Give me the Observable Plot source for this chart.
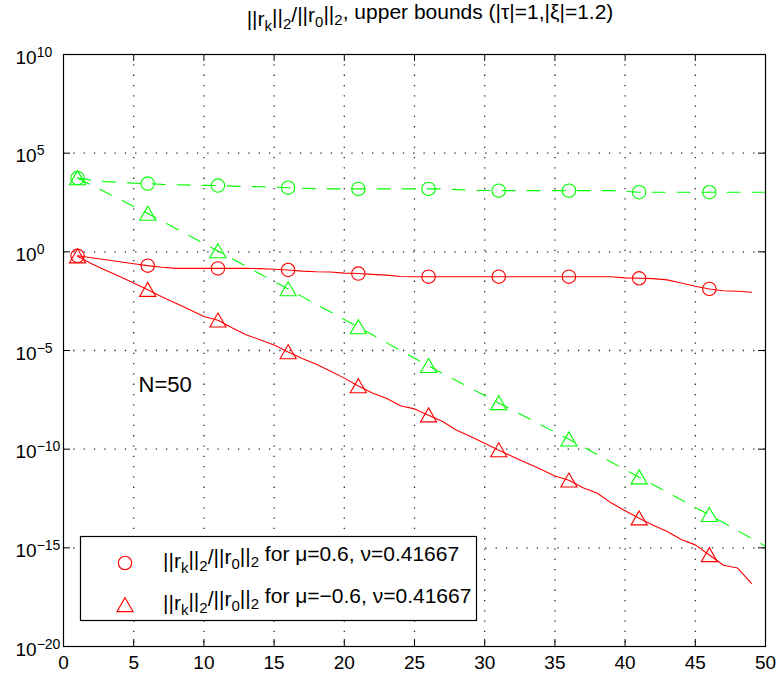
<!DOCTYPE html>
<html><head><meta charset="utf-8">
<script src="https://cdn.jsdelivr.net/npm/d3@7"></script>
<script src="https://cdn.jsdelivr.net/npm/@observablehq/plot@0.6"></script>
<style>body{margin:0;background:#fff}#chart{width:783px;height:679px}</style>
</head><body><div id="chart"></div>
<script>
// iteration index k
const iterations = [1,2,3,4,5,6,7,8,9,10,11,12,13,14,15,16,17,18,19,20,21,22,23,24,25,26,27,28,29,30,31,32,33,34,35,36,37,38,39,40,41,42,43,44,45,46,47,48,49,50];
// log10 of ||r_k||_2/||r_0||_2
const redCircleExp = [-0.20,-0.30,-0.40,-0.50,-0.60,-0.70,-0.78,-0.84,-0.84,-0.84,-0.84,-0.84,-0.84,-0.85,-0.88,-0.92,-0.98,-1.01,-1.02,-1.08,-1.10,-1.14,-1.18,-1.25,-1.26,-1.26,-1.26,-1.26,-1.26,-1.26,-1.26,-1.26,-1.26,-1.26,-1.26,-1.26,-1.26,-1.26,-1.26,-1.32,-1.34,-1.36,-1.42,-1.58,-1.74,-1.88,-1.97,-2.00,-2.05];
const redTriangleExp = [-0.22,-0.60,-0.93,-1.25,-1.58,-1.92,-2.28,-2.60,-2.94,-3.28,-3.47,-3.85,-4.20,-4.45,-4.72,-5.08,-5.40,-5.70,-6.04,-6.40,-6.80,-7.15,-7.42,-7.80,-7.96,-8.28,-8.60,-9.04,-9.36,-9.70,-10.05,-10.38,-10.70,-11.02,-11.36,-11.58,-11.95,-12.22,-12.72,-13.12,-13.50,-13.85,-14.17,-14.58,-14.85,-15.36,-15.88,-16.02,-16.80];
const greenCircleExp = [3.74,3.64,3.56,3.52,3.48,3.46,3.42,3.40,3.38,3.37,3.36,3.33,3.31,3.30,3.28,3.25,3.22,3.20,3.19,3.19,3.19,3.19,3.19,3.19,3.19,3.19,3.19,3.15,3.12,3.11,3.10,3.10,3.10,3.10,3.10,3.10,3.10,3.10,3.10,3.06,3.02,3.02,3.02,3.02,3.02,3.02,3.02,3.02,3.02,3.02];
const greenTriangleExp = [3.74,3.38,3.02,2.66,2.30,1.94,1.56,1.18,0.80,0.42,0.04,-0.35,-0.73,-1.12,-1.50,-1.89,-2.27,-2.66,-3.04,-3.43,-3.81,-4.20,-4.60,-5.00,-5.39,-5.78,-6.16,-6.53,-6.91,-7.28,-7.66,-8.03,-8.40,-8.77,-9.14,-9.50,-9.88,-10.27,-10.65,-11.04,-11.42,-11.80,-12.18,-12.56,-12.95,-13.33,-13.72,-14.12,-14.52,-14.92];
const markerIterations = [1,6,11,16,21,26,31,36,41,46];
const xTicks = [0,5,10,15,20,25,30,35,40,45,50];
const yTickExps = [10,5,0,-5,-10,-15,-20];
const legendParams = ["μ=0.6, ν=0.41667", "μ=−0.6, ν=0.41667"];
const titleTail = ", upper bounds (|τ|=1,|ξ|=1.2)";
const annotation = "N=50";

const RED = "#ff0000", GREEN = "#00ff00";
function series(exps) { return exps.map((e, i) => ({k: iterations[i], v: Math.pow(10, e)})); }
function markers(s) { return s.filter(d => markerIterations.includes(d.k)); }
const redC = series(redCircleExp), redT = series(redTriangleExp);
const grnC = series(greenCircleExp), grnT = series(greenTriangleExp);
const yTicks = yTickExps.map(e => Math.pow(10, e));

const W = 783, H = 679, mL = 63, mR = 18, mT = 54, mB = 33;
const plotW = W - mL - mR, plotH = H - mT - mB;
const FONT = "'Liberation Sans', Arial, Helvetica, sans-serif";
const dash = "13,12";

const chart = Plot.plot({
  width: W, height: H,
  marginLeft: mL, marginRight: mR, marginTop: mT, marginBottom: mB,
  style: {fontFamily: FONT, fontSize: "19px", background: "white", color: "black"},
  x: {domain: [0, 50], label: null},
  y: {type: "log", domain: [1e-20, 1e10], label: null},
  marks: [
    Plot.gridX(xTicks.slice(1, -1), {stroke: "black", strokeOpacity: 0.85, strokeWidth: 1.3, strokeDasharray: "1.3,9"}),
    Plot.gridY(yTicks.slice(1, -1), {stroke: "black", strokeOpacity: 0.85, strokeWidth: 1.3, strokeDasharray: "1.3,9"}),
    Plot.tickX(xTicks, {x: d => d, stroke: "black", insetTop: plotH - 7}),
    Plot.tickX(xTicks, {x: d => d, stroke: "black", insetBottom: plotH - 7}),
    Plot.tickY(yTicks, {y: d => d, stroke: "black", insetRight: plotW - 7}),
    Plot.tickY(yTicks, {y: d => d, stroke: "black", insetLeft: plotW - 7}),
    Plot.line(grnC, {x: "k", y: "v", stroke: GREEN, strokeWidth: 1.1, strokeDasharray: dash}),
    Plot.line(grnT, {x: "k", y: "v", stroke: GREEN, strokeWidth: 1.1, strokeDasharray: dash}),
    Plot.line(redC, {x: "k", y: "v", stroke: RED, strokeWidth: 1.1}),
    Plot.line(redT, {x: "k", y: "v", stroke: RED, strokeWidth: 1.1}),
    Plot.dot(markers(grnC), {x: "k", y: "v", stroke: GREEN, fill: "none", r: 6.7, symbol: "circle", strokeWidth: 1.1}),
    Plot.dot(markers(grnT), {x: "k", y: "v", stroke: GREEN, fill: "none", r: 6, symbol: "triangle", dy: 2, strokeWidth: 1.1}),
    Plot.dot(markers(redC), {x: "k", y: "v", stroke: RED, fill: "none", r: 6.7, symbol: "circle", strokeWidth: 1.1}),
    Plot.dot(markers(redT), {x: "k", y: "v", stroke: RED, fill: "none", r: 6, symbol: "triangle", dy: 2, strokeWidth: 1.1}),
    Plot.text([annotation], {x: 5.35, y: Math.pow(10, -6.75), text: d => d, textAnchor: "start", fontSize: 22, fill: "black"}),
    Plot.frame({stroke: "black", strokeWidth: 1.2}),
    Plot.axisX({ticks: xTicks, tickSize: 0, tickPadding: 9, tickFormat: d => String(d), fontSize: 19}),
    Plot.axisY({ticks: yTicks, tickSize: 0, tickPadding: 0, textAnchor: "start", dx: -48, dy: 3,
      tickFormat: d => String(Math.round(Math.log10(d))), fontSize: 19})
  ]
});
document.getElementById("chart").appendChild(chart);

const svg = d3.select(chart);
// y tick labels with superscript exponents
svg.selectAll('g[aria-label="y-axis tick label"] text').each(function () {
  const exp = this.textContent.replace("-", "−");
  const t = d3.select(this);
  t.text(null);
  t.append("tspan").text("10");
  t.append("tspan").attr("dy", "-0.5em").attr("font-size", "14px").text(exp);
});

function rich(textSel, parts, subSize) {
  parts.forEach(([s, kind]) => {
    const sp = textSel.append("tspan").text(s);
    if (kind === "sub") sp.attr("font-size", subSize).attr("dy", "0.3em");
    if (kind === "after") sp.attr("dy", "-0.3em");
  });
}
function normParts(tail) {
  return [["||r", null], ["k", "sub"], ["||", "after"], ["2", "sub"], ["/||r", "after"], ["0", "sub"], ["||", "after"], ["2", "sub"], [tail, "after"]];
}

// title
const title = svg.append("text").attr("x", 430).attr("y", 26)
  .attr("text-anchor", "middle").attr("font-size", "21px").attr("fill", "black").attr("font-family", FONT);
rich(title, normParts(titleTail), "15px");

// legend
const lg = svg.append("g").attr("font-family", FONT).attr("text-anchor", "start");
lg.append("rect").attr("x", 80.5).attr("y", 536.5).attr("width", 396).attr("height", 84)
  .attr("fill", "white").attr("stroke", "black").attr("stroke-width", 1.2);
legendParams.forEach((p, i) => {
  const cy = 563 + i * 42;
  if (i === 0) lg.append("circle").attr("cx", 125).attr("cy", cy).attr("r", 6.7).attr("fill", "none").attr("stroke", RED).attr("stroke-width", 1.1);
  else lg.append("path").attr("d", d3.symbol(d3.symbolTriangle, Math.PI * 36)()).attr("transform", `translate(125,${cy + 2})`).attr("fill", "none").attr("stroke", RED).attr("stroke-width", 1.1);
  const t = lg.append("text").attr("x", 163).attr("y", cy + 5).attr("font-size", "21px").attr("fill", "black").attr("text-anchor", "start");
  rich(t, normParts(" for " + p), "15px");
});
</script>
</body></html>
